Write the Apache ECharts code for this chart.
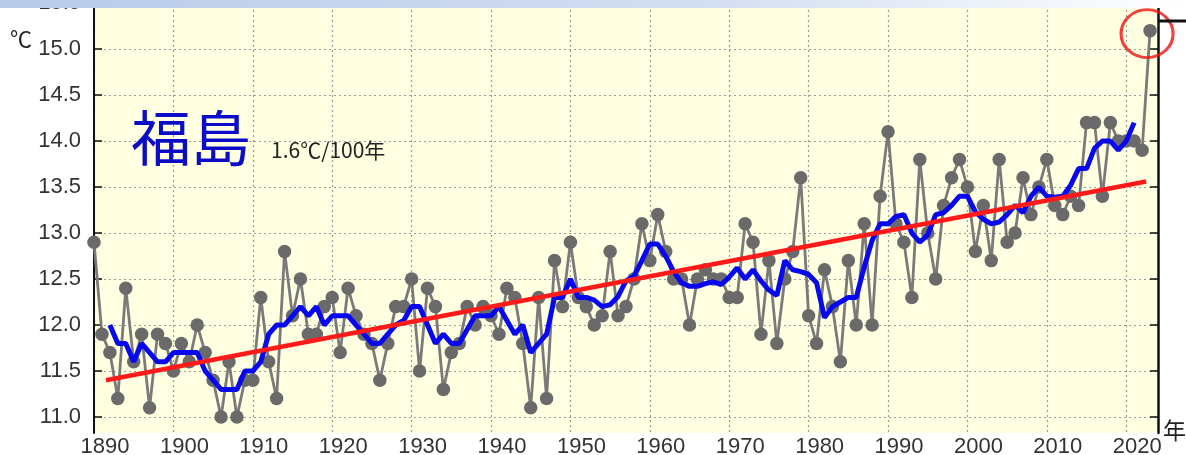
<!DOCTYPE html>
<html>
<head>
<meta charset="utf-8">
<script src="https://cdn.jsdelivr.net/npm/echarts@6/dist/echarts.min.js"></script>
<style>
html,body{margin:0;padding:0;background:#fff;}
#c{width:1186px;height:455px;}
</style>
</head>
<body>
<div id="c"></div>
<script>
// ---- data ----
const firstYear = 1890;
const annualMean = [
  12.9, 11.9, 11.7, 11.2, 12.4, 11.6, 11.9, 11.1, 11.9, 11.8,
  11.5, 11.8, 11.6, 12.0, 11.7, 11.4, 11.0, 11.6, 11.0, 11.4,
  11.4, 12.3, 11.6, 11.2, 12.8, 12.1, 12.5, 11.9, 11.9, 12.2,
  12.3, 11.7, 12.4, 12.1, 11.9, 11.8, 11.4, 11.8, 12.2, 12.2,
  12.5, 11.5, 12.4, 12.2, 11.3, 11.7, 11.8, 12.2, 12.0, 12.2,
  12.1, 11.9, 12.4, 12.3, 11.8, 11.1, 12.3, 11.2, 12.7, 12.2,
  12.9, 12.3, 12.2, 12.0, 12.1, 12.8, 12.1, 12.2, 12.5, 13.1,
  12.7, 13.2, 12.8, 12.5, 12.5, 12.0, 12.5, 12.6, 12.5, 12.5,
  12.3, 12.3, 13.1, 12.9, 11.9, 12.7, 11.8, 12.5, 12.8, 13.6,
  12.1, 11.8, 12.6, 12.2, 11.6, 12.7, 12.0, 13.1, 12.0, 13.4,
  14.1, 13.1, 12.9, 12.3, 13.8, 13.0, 12.5, 13.3, 13.6, 13.8,
  13.5, 12.8, 13.3, 12.7, 13.8, 12.9, 13.0, 13.6, 13.2, 13.5,
  13.8, 13.3, 13.2, 13.4, 13.3, 14.2, 14.2, 13.4, 14.2, 14.0,
  14.0, 14.0, 13.9, 15.2
];
const smoothFirstYear = 1892;
const smoothMean = [
  12.0, 11.8, 11.8, 11.6, 11.8, 11.7, 11.6, 11.6,
  11.7, 11.7, 11.7, 11.7, 11.5, 11.4, 11.3, 11.3, 11.3, 11.5,
  11.5, 11.6, 11.9, 12.0, 12.0, 12.1, 12.2, 12.1, 12.2, 12.0,
  12.1, 12.1, 12.1, 12.0, 11.9, 11.8, 11.8, 11.9, 12.0, 12.05,
  12.2, 12.2, 12.0, 11.8, 11.9, 11.8, 11.8, 11.95, 12.1, 12.1,
  12.1, 12.2, 12.05, 11.9, 12.0, 11.7, 11.8, 11.9, 12.3, 12.3,
  12.5, 12.3, 12.3, 12.27, 12.2, 12.22, 12.31, 12.48, 12.53, 12.7,
  12.88, 12.88, 12.75, 12.58, 12.46, 12.42, 12.42, 12.45, 12.47, 12.44,
  12.52, 12.62, 12.5, 12.6, 12.48, 12.38, 12.32, 12.7, 12.6, 12.58,
  12.55, 12.46, 12.08, 12.2, 12.25, 12.3, 12.3, 12.63, 12.92, 13.1,
  13.1, 13.18, 13.2, 13.0, 12.9, 12.98, 13.2, 13.22, 13.3, 13.4,
  13.4, 13.23, 13.15, 13.1, 13.12, 13.2, 13.3, 13.22, 13.4, 13.5,
  13.4, 13.39, 13.4, 13.52, 13.7, 13.7, 13.92, 14.0, 14.0, 13.9,
  14.0, 14.2
];
const trendYears = [1891.5, 2022.5];
const trendValues = [11.40, 13.56];
const highlightYear = 2023;
const highlightValue = 15.2;
const xTickLabels = [1890, 1900, 1910, 1920, 1930, 1940, 1950, 1960, 1970, 1980, 1990, 2000, 2010, 2020];
const yTickLabels = [11.0, 11.5, 12.0, 12.5, 13.0, 13.5, 14.0, 14.5, 15.0, 15.5];
const stationName = '福島';
const trendText = '1.6℃/100年';

// ---- build series data ----
const annualData = annualMean.map((v, i) => [firstYear + i, v]);
const smoothData = smoothMean.map((v, i) => [smoothFirstYear + i, v]);
const trendData = trendYears.map((y, i) => [y, trendValues[i]]);

const Y_MIN = 10.826, Y_MAX = 15.533;
const gridLine = {show: true, lineStyle: {color: '#9c9c9c', width: 1.2, type: [2, 3]}};
const labelFont = 'Liberation Sans, Arial, sans-serif';

const chart = echarts.init(document.getElementById('c'), null, {renderer: 'canvas'});
chart.setOption({
  animation: false,
  backgroundColor: '#ffffff',
  grid: {left: 94, right: 28, top: 0, bottom: 22, show: true, backgroundColor: '#FFFFE1', borderWidth: 0,
         containLabel: false, outerBoundsMode: 'none'},
  xAxis: {
    type: 'value', min: 1890, max: 2024,
    axisLine: {show: false},
    axisTick: {show: false, customValues: xTickLabels},
    axisLabel: {customValues: xTickLabels, formatter: v => String(Math.round(v)), fontSize: 22, color: '#333', fontFamily: labelFont, margin: 3, padding: [0, 0, 0, 22]},
    splitLine: gridLine
  },
  yAxis: [
    {
      type: 'value', min: Y_MIN, max: Y_MAX, position: 'left',
      axisLine: {show: true, lineStyle: {color: '#111', width: 2}},
      axisTick: {show: true, inside: true, length: 8, lineStyle: {color: '#111', width: 1.5}, customValues: yTickLabels},
      axisLabel: {customValues: yTickLabels, formatter: v => Number(v).toFixed(1), fontSize: 22, color: '#333', fontFamily: labelFont, margin: 13},
      splitLine: gridLine
    },
    {
      type: 'value', min: Y_MIN, max: Y_MAX, position: 'right',
      axisLine: {show: true, lineStyle: {color: '#111', width: 2.5}},
      axisTick: {show: true, inside: true, length: 8, lineStyle: {color: '#111', width: 1.5}, customValues: yTickLabels},
      axisLabel: {show: false, customValues: yTickLabels},
      splitLine: {show: false}
    }
  ],
  series: [
    {
      type: 'line', data: annualData, symbol: 'circle', symbolSize: 13.5, showAllSymbol: true,
      lineStyle: {color: '#7a7a7a', width: 2.8}, itemStyle: {color: '#6a6a6a'}, z: 2
    },
    {
      type: 'line', data: smoothData, symbol: 'none',
      lineStyle: {color: '#0808f0', width: 5}, z: 3
    },
    {
      type: 'line', data: trendData, symbol: 'none',
      lineStyle: {color: '#ff1a1a', width: 4.5}, z: 4
    },
    {
      type: 'scatter', data: [[highlightYear, highlightValue]], symbol: 'circle', symbolSize: [52, 48], symbolOffset: [-3, 3],
      itemStyle: {color: 'rgba(0,0,0,0)', borderColor: '#ee1111', borderWidth: 3}, z: 5, silent: true
    }
  ],
  graphic: [
    {type: 'rect', left: 0, top: 0, z: 100, shape: {width: 1186, height: 8},
     style: {fill: new echarts.graphic.LinearGradient(0, 0, 1, 0, [
       {offset: 0, color: '#b8cbea'}, {offset: 0.6, color: '#d3def1'}, {offset: 1, color: '#ffffff'}])}},
    {type: 'line', z: 100, shape: {x1: 1158, y1: 21, x2: 1186, y2: 21}, style: {stroke: '#111', lineWidth: 3}},
    {type: 'text', left: 10, top: 28, z: 100, style: {text: '℃', fontSize: 22, fill: '#222', fontFamily: 'Noto Sans CJK JP'}},
    {type: 'text', left: 1163, top: 419, z: 100, style: {text: '年', fontSize: 23, fill: '#222', fontFamily: 'Noto Sans CJK JP'}},
    {type: 'text', left: 131, top: 108, z: 100, style: {text: stationName, fontSize: 60, fill: '#0c0cc8', fontFamily: 'Noto Sans CJK JP'}},
    {type: 'text', left: 271, top: 140, z: 100, style: {text: trendText, fontSize: 21, fill: '#222', fontFamily: 'Noto Sans CJK JP'}}
  ]
});
</script>
</body>
</html>
